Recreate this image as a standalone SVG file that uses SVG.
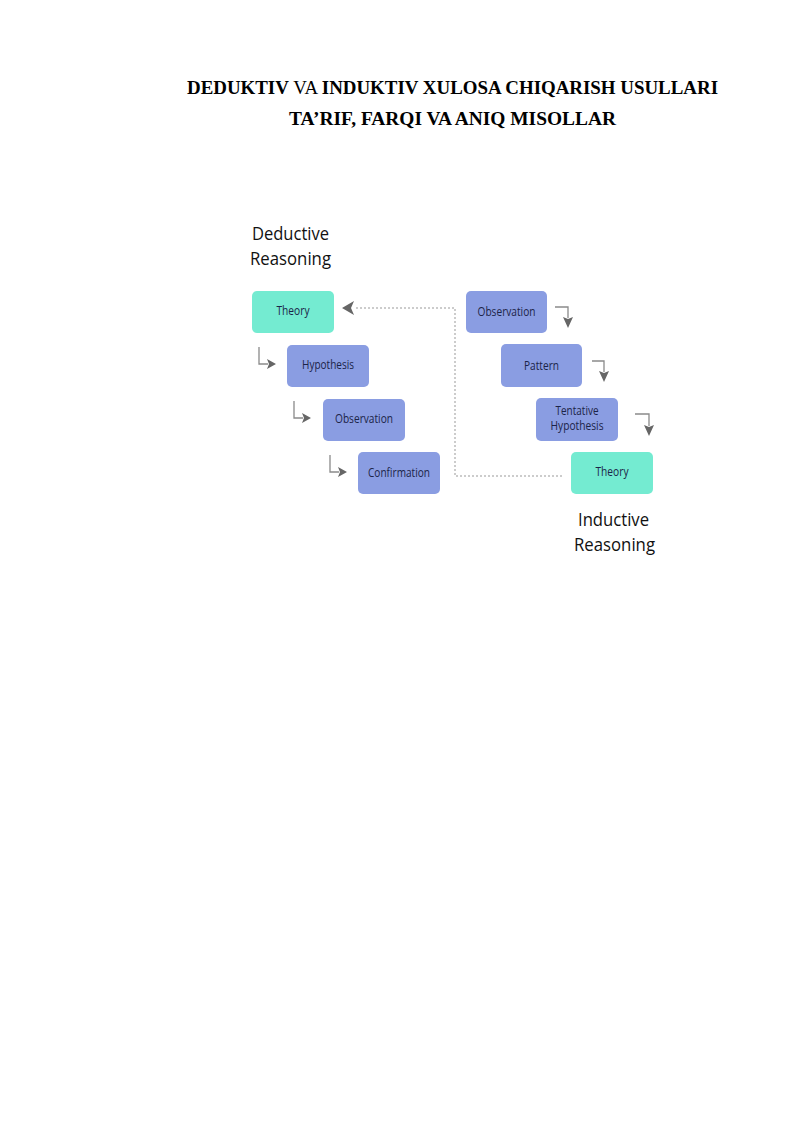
<svg xmlns="http://www.w3.org/2000/svg" width="800" height="1131" viewBox="0 0 800 1131">
<style>
.title{font-family:"Liberation Serif","Times New Roman",serif;font-size:19px;fill:#000;}
.b{font-weight:bold;}
.head{font-family:"Open Sans","Noto Sans",sans-serif;font-size:18px;fill:#111;}
.lbl{font-family:"Open Sans","Noto Sans",sans-serif;font-size:12.5px;fill:#1c2448;text-anchor:middle;}
.teal{fill:#74EBD1;}
.blue{fill:#8A9DE2;}
.ar{fill:none;stroke:#8a8a8a;stroke-width:1.3;}
.ah{fill:#666;}
.dash{fill:none;stroke:#999;stroke-width:1;stroke-dasharray:2,2;}
</style>
<rect width="800" height="1131" fill="#fff"/>
<g id="title">
<text class="title" x="187" y="94" textLength="531" lengthAdjust="spacingAndGlyphs"><tspan class="b">DEDUKTIV</tspan> VA <tspan class="b">INDUKTIV XULOSA CHIQARISH USULLARI</tspan></text>
<text class="title b" x="289" y="125" textLength="327" lengthAdjust="spacingAndGlyphs">TA’RIF, FARQI VA ANIQ MISOLLAR</text>
</g>
<g id="deductive-heading">
<text class="head" x="252" y="240" textLength="77" lengthAdjust="spacingAndGlyphs">Deductive</text>
<text class="head" x="250" y="265" textLength="81" lengthAdjust="spacingAndGlyphs">Reasoning</text>
</g>
<g id="inductive-heading">
<text class="head" x="578" y="526" textLength="71" lengthAdjust="spacingAndGlyphs">Inductive</text>
<text class="head" x="574" y="551" textLength="81" lengthAdjust="spacingAndGlyphs">Reasoning</text>
</g>
<g id="d-theory"><rect class="teal" x="252" y="291" width="82" height="42" rx="5"/><text class="lbl" x="293" y="315" textLength="33" lengthAdjust="spacingAndGlyphs">Theory</text></g>
<g id="d-hypothesis"><rect class="blue" x="287" y="345" width="82" height="42" rx="5"/><text class="lbl" x="328" y="369" textLength="52" lengthAdjust="spacingAndGlyphs">Hypothesis</text></g>
<g id="d-observation"><rect class="blue" x="323" y="399" width="82" height="42" rx="5"/><text class="lbl" x="364" y="423" textLength="58" lengthAdjust="spacingAndGlyphs">Observation</text></g>
<g id="d-confirmation"><rect class="blue" x="358" y="452" width="82" height="42" rx="5"/><text class="lbl" x="399" y="477" textLength="62" lengthAdjust="spacingAndGlyphs">Confirmation</text></g>
<g id="i-observation"><rect class="blue" x="466" y="291" width="81" height="42" rx="5"/><text class="lbl" x="506.5" y="316" textLength="58" lengthAdjust="spacingAndGlyphs">Observation</text></g>
<g id="i-pattern"><rect class="blue" x="501" y="344" width="81" height="43" rx="5"/><text class="lbl" x="541.5" y="370" textLength="35" lengthAdjust="spacingAndGlyphs">Pattern</text></g>
<g id="i-tentative"><rect class="blue" x="536" y="398" width="82" height="43" rx="5"/><text class="lbl" x="577" y="415" textLength="43" lengthAdjust="spacingAndGlyphs">Tentative</text><text class="lbl" x="577" y="430" textLength="53" lengthAdjust="spacingAndGlyphs">Hypothesis</text></g>
<g id="i-theory"><rect class="teal" x="571" y="452" width="82" height="42" rx="5"/><text class="lbl" x="612" y="476" textLength="33" lengthAdjust="spacingAndGlyphs">Theory</text></g>
<g id="connectors">
<path class="ar" d="M259,347 V364 H268"/><path class="ah" d="M267,359 L276,364 L267,369 L269,364 Z"/>
<path class="ar" d="M294,401 V418 H303"/><path class="ah" d="M302,413 L311,418 L302,423 L304,418 Z"/>
<path class="ar" d="M330,455 V472 H339"/><path class="ah" d="M338,467 L347,472 L338,477 L340,472 Z"/>
<path class="ar" d="M555,307 H568 V318"/><path class="ah" d="M563,317 L568,328 L573,317 L568,319 Z"/>
<path class="ar" d="M592,361 H604 V372"/><path class="ah" d="M599,371 L604,382 L609,371 L604,373 Z"/>
<path class="ar" d="M635,414 H649 V426"/><path class="ah" d="M644,425 L649,436 L654,425 L649,427 Z"/>
<path class="dash" d="M562,476 H455 V308 H354"/>
<path class="ah" d="M354,301 L342,308 L354,315 L351,308 Z"/>
</g>
</svg>
